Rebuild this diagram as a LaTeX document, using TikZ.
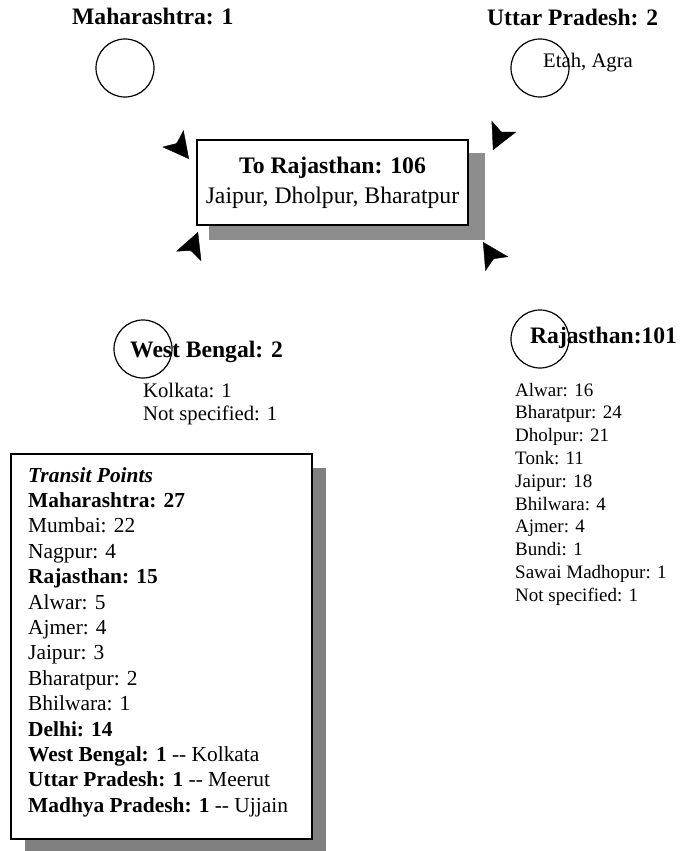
\documentclass[tikz,border=0pt]{standalone}
\usepackage{fontspec}
\setmainfont{Liberation Serif}
\usepackage{tikz}
\usetikzlibrary{arrows.meta, shadows, positioning}

\tikzset{
  region/.style={circle, draw, line width=1.2pt, minimum size=58pt, inner sep=0pt},
  hd/.style={anchor=base west, inner sep=0pt, font=\bfseries\fontsize{23.6}{28}\selectfont},
  txt/.style={anchor=base west, inner sep=0pt, font=\fontsize{20.7}{23}\selectfont},
  lst/.style={anchor=base west, inner sep=0pt, font=\fontsize{19}{23}\selectfont},
  tpl/.style={anchor=base west, inner sep=0pt, font=\fontsize{21.4}{25}\selectfont},
  dart/.style={-{Stealth[length=26pt, width=27pt, inset=6pt]}, line width=0.4pt},
}

\begin{document}
\begin{tikzpicture}[x=1pt, y=-1pt]
\useasboundingbox (0,0) rectangle (680,851);
% states around the box
\node[region] (mh) at (125, 68) {};
\node[region] (up) at (540, 68) {};
\node[region] (wb) at (143, 349) {};
\node[region] (rj) at (540, 339) {};
\node[hd] (mhLbl) at (72, 25) {Maharashtra: 1};
\node[hd] (upLbl) at (487, 26) {Uttar Pradesh: 2};
\node[txt] (upTxt) at (543, 67) {Etah, Agra};
\node[hd] (wbLbl) at (130, 357) {West Bengal: 2};
\node[txt] (wb1) at (143, 397) {Kolkata: 1};
\node[txt] (wb2) at (143, 420) {Not specified: 1};
\node[hd] (rjLbl) at (530, 343) {Rajasthan:101};
\foreach \ent [count=\i] in {Alwar: 16, Bharatpur: 24, Dholpur: 21, Tonk: 11, Jaipur: 18, Bhilwara: 4, Ajmer: 4, Bundi: 1, Sawai Madhopur: 1, Not specified: 1}
  \node[lst] (rj\i) at (515, {396+22.8*(\i-1)}) {\ent};

% destination
\node[draw, fill=white, line width=1.2pt, minimum width=271pt, minimum height=85pt, align=center,
      drop shadow={shadow xshift=14pt, shadow yshift=-14pt, shadow scale=1.02, fill=black!45, opacity=1},
      font=\fontsize{23.7}{30}\selectfont] (to) at (332.5, 182.5) {\textbf{To Rajasthan: 106}\\Jaipur, Dholpur, Bharatpur};

\coordinate (tlTail) at (176, 142.5);   \coordinate (tlTip) at (189, 159);
\coordinate (trTail) at (501.5, 131.5); \coordinate (trTip) at (493, 150);
\coordinate (blTail) at (190.5, 251.5); \coordinate (blTip) at (198, 232);
\coordinate (brTail) at (494, 259.5);   \coordinate (brTip) at (483, 242);
\draw
  (tlTail) edge[dart] (tlTip)
  (trTail) edge[dart] (trTip)
  (blTail) edge[dart] (blTip)
  (brTail) edge[dart] (brTip);

% transit points
\node[draw, fill=white, line width=1.2pt, minimum width=301pt, minimum height=385pt,
      drop shadow={shadow xshift=14pt, shadow yshift=-14pt, fill=black!50, opacity=1}] (tp) at (161.5, 646.5) {};
\foreach \ent [count=\i] in {\textbf{\itshape Transit Points}, \textbf{Maharashtra: 27}, Mumbai: 22, Nagpur: 4,
    \textbf{Rajasthan: 15}, Alwar: 5, Ajmer: 4, Jaipur: 3, Bharatpur: 2, Bhilwara: 1, \textbf{Delhi: 14},
    \textbf{West Bengal: 1} {-}{-} Kolkata, \textbf{Uttar Pradesh: 1} {-}{-} Meerut, \textbf{Madhya Pradesh: 1} {-}{-} Ujjain}
  \node[tpl] (tp\i) at (28, {482+25.4*(\i-1)}) {\ent};
\end{tikzpicture}
\end{document}
